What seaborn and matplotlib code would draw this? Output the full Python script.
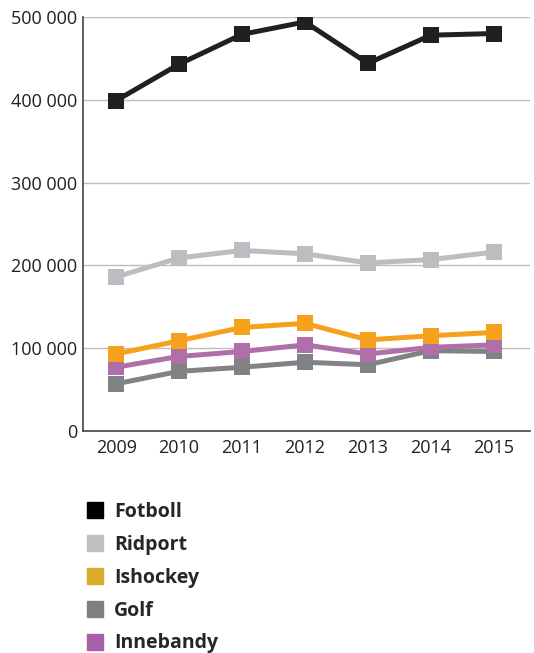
import pandas as pd
import seaborn as sns
import matplotlib.pyplot as plt
from matplotlib.lines import Line2D
from matplotlib.ticker import FuncFormatter

years = ['2009', '2010', '2011', '2012', '2013', '2014', '2015']
fotboll = [399000, 443000, 479000, 494000, 444000, 478000, 480000]
ridport = [186000, 209000, 218000, 214000, 203000, 207000, 216000]
ishockey = [93000, 109000, 125000, 130000, 110000, 115000, 119000]
golf = [57000, 72000, 77000, 83000, 80000, 97000, 96000]
innebandy = [77000, 90000, 96000, 104000, 93000, 101000, 104000]

sports = ['Fotboll', 'Ridport', 'Ishockey', 'Golf', 'Innebandy']
line_colors = ['#231f20', '#bcbdc0', '#f6a11c', '#808285', '#b06fa8']
legend_colors = ['#000000', '#bfbfbf', '#dbaa2a', '#808080', '#a65fa8']

df = pd.DataFrame({'year': years, 'Fotboll': fotboll, 'Ridport': ridport,
                   'Ishockey': ishockey, 'Golf': golf, 'Innebandy': innebandy})
long = df.melt(id_vars='year', var_name='sport', value_name='value')
long['x'] = long['year'].map({y: i for i, y in enumerate(years)})

sns.set_theme(style='white')
plt.rcParams['font.family'] = ['Open Sans', 'DejaVu Sans']

fig = plt.figure(figsize=(5.34, 6.53), dpi=100)
ax = fig.add_axes([0.155, 0.34, 0.838, 0.634])

# lower series first so the top ones are drawn over them
order = ['Golf', 'Innebandy', 'Ishockey', 'Ridport', 'Fotboll']
for s in order:
    sub = long[long['sport'] == s]
    sns.lineplot(data=sub, x='x', y='value', ax=ax, color=line_colors[sports.index(s)],
                 marker='s', markersize=11.5, markeredgewidth=0, linewidth=3.6,
                 legend=False)

ax.set_ylim(0, 500000)
ax.set_xlim(-0.53, 6.58)
ax.set_yticks(range(0, 500001, 100000))
ax.yaxis.set_major_formatter(FuncFormatter(lambda v, p: f'{int(v):,}'.replace(',', ' ')))
ax.set_xticks(range(len(years)))
ax.set_xticklabels(years)
ax.set_xlabel('')
ax.set_ylabel('')

ax.grid(axis='y', color='#bdbdbd', linewidth=1)
ax.set_axisbelow(True)
for side in ['top', 'right']:
    ax.spines[side].set_visible(False)
for side in ['left', 'bottom']:
    ax.spines[side].set_color('#444444')
    ax.spines[side].set_linewidth(1.2)

ax.tick_params(axis='x', direction='in', length=8, width=1, color='#444444',
               labelsize=13, labelcolor='#231f20', pad=6)
ax.tick_params(axis='y', length=0, labelsize=13, labelcolor='#231f20', pad=4)

handles = [Line2D([], [], marker='s', linestyle='none', color=c, markersize=12)
           for c in legend_colors]
fig.legend(handles, sports, loc='upper left', bbox_to_anchor=(0.13, 0.258),
           frameon=False, handlelength=0.8, handletextpad=0.6, labelspacing=0.66,
           prop={'weight': 'bold', 'size': 14})

fig.savefig('out.png', dpi=100)
